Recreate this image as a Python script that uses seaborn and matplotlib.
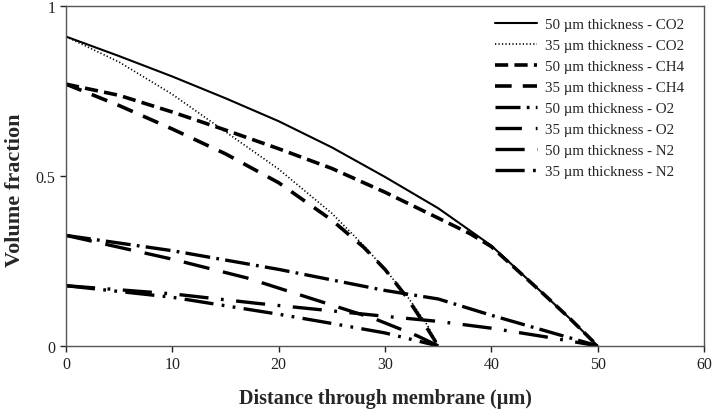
import matplotlib
matplotlib.use("Agg")
import matplotlib.pyplot as plt
import seaborn as sns
import pandas as pd

#data
co2_50_x = [0, 5, 10, 15, 20, 25, 30, 35, 40, 45, 47.5, 50]
co2_50_y = [0.91, 0.8525, 0.7925, 0.7285, 0.661, 0.584, 0.497, 0.405, 0.295, 0.15, 0.077, 0.0]

co2_35_x = [0, 5, 10, 15, 20, 25, 28, 30, 32, 34, 35]
co2_35_y = [0.91, 0.835, 0.74, 0.63, 0.52, 0.39, 0.295, 0.225, 0.15, 0.06, 0.0]

ch4_50_x = [0, 5, 10, 15, 20, 25, 30, 35, 38, 40, 45, 47.5, 50]
ch4_50_y = [0.77, 0.737, 0.688, 0.635, 0.58, 0.522, 0.452, 0.376, 0.33, 0.292, 0.15, 0.077, 0.0]

ch4_35_x = [0, 5, 10, 15, 20, 25, 28, 30, 32, 34, 35]
ch4_35_y = [0.77, 0.707, 0.638, 0.565, 0.48, 0.37, 0.29, 0.225, 0.145, 0.05, 0.0]

o2_50_x = [0, 10, 20, 30, 35, 40, 45, 50]
o2_50_y = [0.325, 0.28, 0.225, 0.163, 0.138, 0.09, 0.045, 0.0]

o2_35_x = [0, 10, 17, 21, 25, 29, 33, 35]
o2_35_y = [0.325, 0.255, 0.20, 0.16, 0.12, 0.08, 0.03, 0.0]

n2_50_x = [0, 10, 18, 25, 30, 35, 40, 45, 50]
n2_50_y = [0.177, 0.153, 0.125, 0.103, 0.087, 0.072, 0.052, 0.027, 0.0]

n2_35_x = [0, 5, 10, 15, 20, 25, 30, 33, 35]
n2_35_y = [0.177, 0.16, 0.143, 0.118, 0.093, 0.066, 0.038, 0.015, 0.0]

labels = ["50 \u00b5m thickness - CO2", "35 \u00b5m thickness - CO2",
          "50 \u00b5m thickness - CH4", "35 \u00b5m thickness - CH4",
          "50 \u00b5m thickness - O2", "35 \u00b5m thickness - O2",
          "50 \u00b5m thickness - N2", "35 \u00b5m thickness - N2"]

x_ticks = [0, 10, 20, 30, 40, 50, 60]
y_ticks = [0, 0.5, 1]
y_tick_labels = ["0", "0.5", "1"]

#---
#style
sns.set_style("ticks")
plt.rcParams["font.family"] = ["Liberation Serif", "DejaVu Serif"]
plt.rcParams["lines.scale_dashes"] = False

series = [
    (co2_50_x, co2_50_y, 1.5, "-"),
    (co2_35_x, co2_35_y, 1.2, (0, (0.9, 1.6))),
    (ch4_50_x, ch4_50_y, 2.6, (0, (9.5, 4.5))),
    (ch4_35_x, ch4_35_y, 2.6, (0, (12, 8))),
    (o2_50_x, o2_50_y, 2.4, (0, (18, 4.5, 2, 4.5))),
    (o2_35_x, o2_35_y, 2.4, (0, (19, 10))),
    (n2_50_x, n2_50_y, 2.4, (0, (21, 9, 2, 9))),
    (n2_35_x, n2_35_y, 2.4, (0, (21, 6, 2, 6, 2, 6))),
]
#---

fig = plt.figure(figsize=(7.14, 4.10), dpi=100)
ax = fig.add_axes([0.0924, 0.154, 0.8936, 0.829])

for (xs, ys, lw, ls), label in zip(series, labels):
    df = pd.DataFrame({"x": xs, "y": ys})
    sns.lineplot(x="x", y="y", data=df, ax=ax, color="black", lw=lw,
                 linestyle=ls, label=label, estimator=None, sort=True)

ax.set_xlim(0, 60)
ax.set_ylim(0, 1)
ax.set_xticks(x_ticks)
ax.set_yticks(y_ticks)
ax.set_yticklabels(y_tick_labels)
ax.tick_params(axis="both", direction="out", length=4, width=1, labelsize=11.5, colors="#222222")
for spine in ax.spines.values():
    spine.set_visible(True)
    spine.set_color("#555555")
    spine.set_linewidth(1)

ax.set_xlabel("Distance through membrane (\u00b5m)", fontsize=14.5, fontweight="bold", labelpad=11)
ax.set_ylabel("Volume fraction", fontsize=16, fontweight="bold")
ax.yaxis.set_label_coords(-0.064, 0.46)

leg = ax.legend(loc="upper right", bbox_to_anchor=(0.99, 1.006), frameon=False,
                fontsize=10.8, handlelength=2.8, labelspacing=0.5, handletextpad=0.5)

fig.savefig("out.png", dpi=100)
